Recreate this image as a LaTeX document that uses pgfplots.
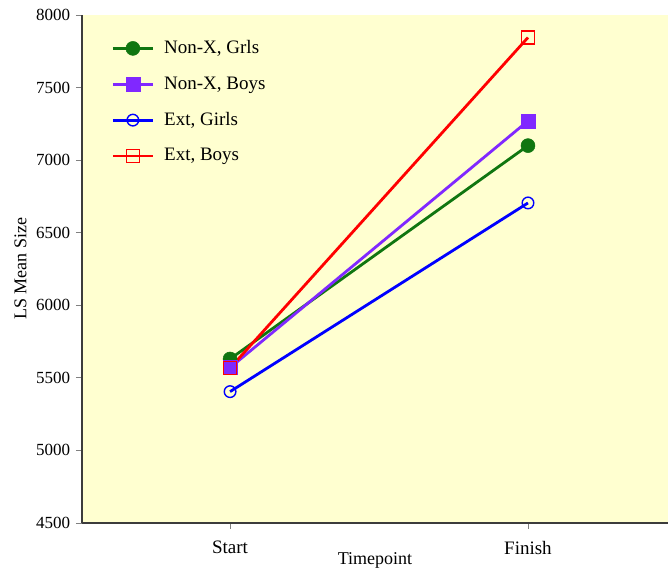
\documentclass[border=0pt]{standalone}
\usepackage{pgfplots}
\pgfplotsset{compat=1.18}
\usepackage{fontspec}
\setmainfont{Liberation Serif}
\definecolor{bgyellow}{RGB}{255,255,208}
\definecolor{cgreen}{RGB}{16,118,16}
\definecolor{cpurple}{RGB}{128,40,255}
\definecolor{cblue}{RGB}{0,0,255}
\definecolor{cred}{RGB}{255,0,0}
\definecolor{axgray}{RGB}{60,60,60}
\begin{document}
\fontsize{17}{20}\selectfont
\begin{tikzpicture}
\begin{axis}[
  scale only axis,
  width=586pt, height=508pt,
  xmin=-0.497, xmax=1.47,
  ymin=4500, ymax=8000,
  xtick={0,1}, xticklabels={Start,Finish},
  ytick={4500,5000,...,8000},
  axis x line*=bottom, axis y line*=left,
  axis line style={axgray, line width=1.3pt, -},
  tick style={gray, line width=0.8pt},
  tick align=outside,
  major tick length=6pt,
  every tick label/.style={font=\fontsize{17}{20}\selectfont},
  xticklabel style={font=\fontsize{19}{22}\selectfont, yshift=-6pt},
  /pgf/number format/assume math mode=true,
  /pgf/number format/1000 sep={},
  scaled y ticks=false,
  axis background/.style={fill=bgyellow},
  xlabel={Timepoint}, ylabel={LS Mean Size},
  label style={font=\fontsize{18}{20}\selectfont},
  xlabel style={at={(rel axis cs:0.5,0)}, anchor=center, yshift=-37pt},
  ylabel style={yshift=-2pt},
  legend style={draw=none, fill=none, at={(rel axis cs:0.045,0.958)}, anchor=north west,
    font=\fontsize{19}{22}\selectfont, row sep=16.5pt, column sep=8pt},
  legend cell align=left,
  legend image code/.code={
    \draw[#1, mark repeat=2, mark phase=2] plot coordinates {(0cm,0cm) (0.7cm,0cm) (1.4cm,0cm)};
  },
]
\addplot[cgreen, line width=2.8pt, mark=*, mark size=7pt, mark options={solid, fill=cgreen, line width=0.5pt}]
  coordinates {(0,5630) (1,7100)};
\addlegendentry{Non-X, Grls}
\addplot[cpurple, line width=2.8pt, mark=square*, mark size=7pt, mark options={fill=cpurple, line width=0.5pt}]
  coordinates {(0,5570) (1,7270)};
\addlegendentry{Non-X, Boys}
\addplot[cblue, line width=2.8pt, mark=o, mark size=5.8pt, mark options={line width=1.4pt}]
  coordinates {(0,5405) (1,6705)};
\addlegendentry{Ext, Girls}
\addplot[cred, line width=2.8pt, mark=square, mark size=6.4pt, mark options={line width=1.3pt, draw=cred, fill=none}]
  coordinates {(0,5567) (1,7845)};
\addlegendentry{Ext, Boys}
\end{axis}
\pgfresetboundingbox
\path (current axis.south west) ++(-82pt,-50pt) coordinate (bl);
\path (current axis.north east) ++(0pt,15pt) coordinate (tr);
\path[use as bounding box] (bl) rectangle (tr);
\end{tikzpicture}
\end{document}
